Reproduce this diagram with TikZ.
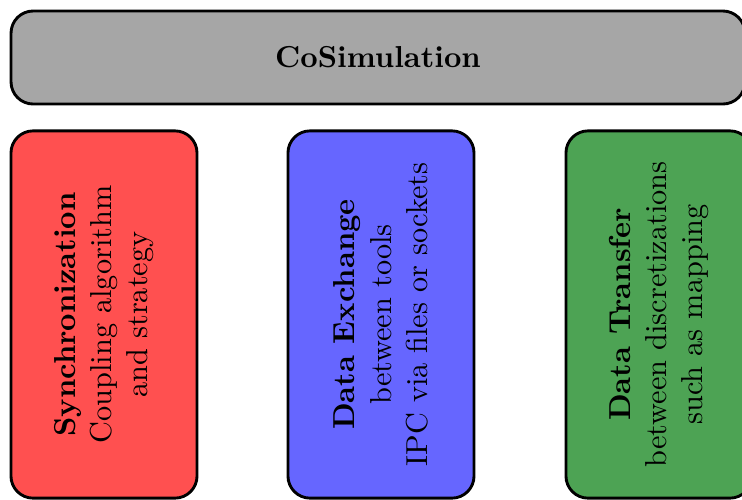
\documentclass[tikz,border=0pt]{standalone}
\definecolor{boxred}{RGB}{255,80,80}
\definecolor{boxblue}{RGB}{102,102,255}
\definecolor{boxgreen}{RGB}{77,163,84}
\definecolor{bargray}{RGB}{166,166,166}
\begin{document}
\begin{tikzpicture}[x=0.33pt,y=-0.33pt,
  panel/.style={draw=black, line width=0.95pt, rounded corners=7.3pt, inner sep=0pt},
  topbar/.style={panel, fill=bargray, minimum width=242.2pt, minimum height=30.7pt},
  colbox/.style={panel, minimum width=61.4pt, minimum height=121.2pt},
  vtext/.style={rotate=90, align=center, inner sep=0pt}]
\useasboundingbox (0,0) rectangle (742,499);
\clip (0,0) rectangle (742,499);
\node[topbar] (cosim) at (378,57.5) {\textbf{CoSimulation}};
\node[colbox, fill=boxred] (sync) at (104,314.5) {};
\node[colbox, fill=boxblue] (dex) at (381,314.5) {};
\node[colbox, fill=boxgreen] (dtr) at (659,314.5) {};
\node[vtext] (synct) at (sync.center) {\textbf{Synchronization}\\Coupling algorithm\\and strategy};
\node[vtext] (dext) at (dex.center) {\textbf{Data Exchange}\\between tools\\IPC via files or sockets};
\node[vtext] (dtrt) at (dtr.center) {\textbf{Data Transfer}\\between discretizations\\such as mapping};
\end{tikzpicture}
\end{document}
